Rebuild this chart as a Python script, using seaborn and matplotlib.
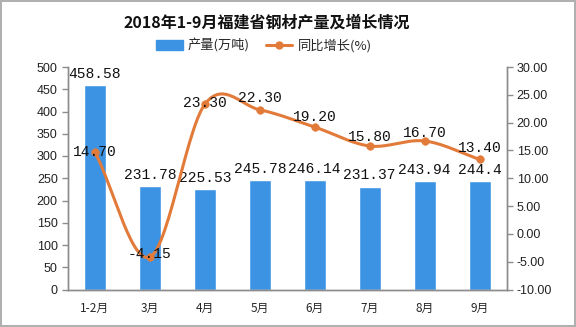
import numpy as np
import pandas as pd
import matplotlib
matplotlib.use("Agg")
import matplotlib.pyplot as plt
import seaborn as sns
from matplotlib.lines import Line2D
from matplotlib.patches import Patch

# ---- data ----
categories = ["1-2月", "3月", "4月", "5月", "6月", "7月", "8月", "9月"]
output = [458.58, 231.78, 225.53, 245.78, 246.14, 231.37, 243.94, 244.4]
output_labels = ["458.58", "231.78", "225.53", "245.78", "246.14", "231.37", "243.94", "244.4"]
growth = [14.70, -4.15, 23.30, 22.30, 19.20, 15.80, 16.70, 13.40]
growth_labels = ["14.70", "-4.15", "23.30", "22.30", "19.20", "15.80", "16.70", "13.40"]
left_ticks = [0, 50, 100, 150, 200, 250, 300, 350, 400, 450, 500]
right_ticks = [-10, -5, 0, 5, 10, 15, 20, 25, 30]

# label offsets (pixels) for growth labels – style only
growth_label_dy = [0, 3, 1, 12, 10, 9, 8, 11]

sns.set_theme(style="white")
plt.rcParams['font.family'] = ['Noto Sans CJK SC', 'DejaVu Sans']

BLUE = "#3d93e3"
ORANGE = "#e27b3a"
GRAY = "#8c8c8c"

fig = plt.figure(figsize=(5.76, 3.27), dpi=100)
fig.patch.set_facecolor("white")
fig.patch.set_edgecolor("#b0b0b0")
fig.patch.set_linewidth(1.5)

L, R, T, B = 67.5, 507.0, 67.0, 289.5
ax = fig.add_axes([L/576, 1-B/327, (R-L)/576, (B-T)/327])
df = pd.DataFrame({"cat": categories, "val": output})
sns.barplot(data=df, x="cat", y="val", color=BLUE, width=0.4, ax=ax,
            saturation=1, order=categories)
ax.set_xlim(-0.5, len(categories) - 0.5)
ax.set_ylim(0, 500)
ax.set_yticks(left_ticks)
ax.set_xlabel("")
ax.set_ylabel("")
for i, (v, t) in enumerate(zip(output, output_labels)):
    ax.annotate(t, (i, v), xytext=(0, 3), textcoords="offset points",
                ha="center", va="bottom", fontsize=10.5,
                family=["Liberation Mono", "DejaVu Sans Mono"], color="#111111")

ax2 = ax.twinx()
ax2.set_ylim(-10, 30)
ax2.set_yticks(right_ticks)
ax2.set_yticklabels([f"{t:.2f}" for t in right_ticks])

# smooth curve (Catmull-Rom) through the data points
xs = np.arange(len(growth), dtype=float)
ys = np.array(growth, dtype=float)
px = np.concatenate([[2*xs[0]-xs[1]], xs, [2*xs[-1]-xs[-2]]])
py = np.concatenate([[2*ys[0]-ys[1]], ys, [2*ys[-1]-ys[-2]]])
cx, cy = [], []
tt = np.linspace(0, 1, 30)
for i in range(1, len(px)-2):
    p0, p1, p2, p3 = py[i-1], py[i], py[i+1], py[i+2]
    q0, q1, q2, q3 = px[i-1], px[i], px[i+1], px[i+2]
    for arr, a0, a1, a2, a3 in ((cx, q0, q1, q2, q3), (cy, p0, p1, p2, p3)):
        arr.extend(0.5*((2*a1) + (-a0+a2)*tt + (2*a0-5*a1+4*a2-a3)*tt**2 + (-a0+3*a1-3*a2+a3)*tt**3))
ax2.plot(cx, cy, color=ORANGE, lw=2.2, zorder=3)
gdf = pd.DataFrame({"x": xs, "g": growth})
sns.scatterplot(data=gdf, x="x", y="g", color=ORANGE, s=30, ax=ax2, zorder=4,
                edgecolor=ORANGE, legend=False)
ax2.set_xlim(-0.5, len(categories) - 0.5)
ax2.set_xlabel("")
ax2.set_ylabel("")
for i, (v, t, dy) in enumerate(zip(growth, growth_labels, growth_label_dy)):
    ax2.annotate(t, (i, v), xytext=(0, dy*0.72), textcoords="offset points",
                 ha="center", va="center", fontsize=10.5,
                 family=["Liberation Mono", "DejaVu Sans Mono"], color="#111111",
                 zorder=5)

for a in (ax, ax2):
    for s in a.spines.values():
        s.set_color(GRAY)
        s.set_linewidth(1)
    a.spines["top"].set_visible(False)
    a.tick_params(axis="both", length=4, width=1, color=GRAY, labelsize=8.5,
                  labelcolor="#222222", pad=3)
ax.set_xticks(np.arange(-0.5, len(categories)), minor=False)
ax.set_xticklabels([""] * (len(categories) + 1))
ax.set_xticks(np.arange(len(categories)), minor=True)
ax.set_xticklabels(categories, minor=True)
ax.tick_params(axis="x", which="minor", length=0, labelsize=8.5, pad=9)
ax.tick_params(axis="x", which="major", length=5)
for lab in ax.get_yticklabels() + ax2.get_yticklabels():
    lab.set_family(["Liberation Sans", "DejaVu Sans"])
    lab.set_fontsize(9)

fig.text(267/576, 1-23/327, "2018年1-9月福建省钢材产量及增长情况",
         ha="center", va="center", fontsize=11.5, fontweight="bold", color="#111111")

handles = [Patch(facecolor=BLUE, edgecolor=BLUE),
           Line2D([0], [0], color=ORANGE, lw=2.2, marker="o", markersize=5)]
fig.legend(handles, ["产量(万吨)", "同比增长(%)"], loc="center",
           bbox_to_anchor=(264/576, 1-46/327), ncol=2, frameon=False,
           fontsize=9.5, handlelength=2.0, handleheight=0.8, columnspacing=1.2,
           handletextpad=0.4)

fig.savefig("out.png", dpi=100)
